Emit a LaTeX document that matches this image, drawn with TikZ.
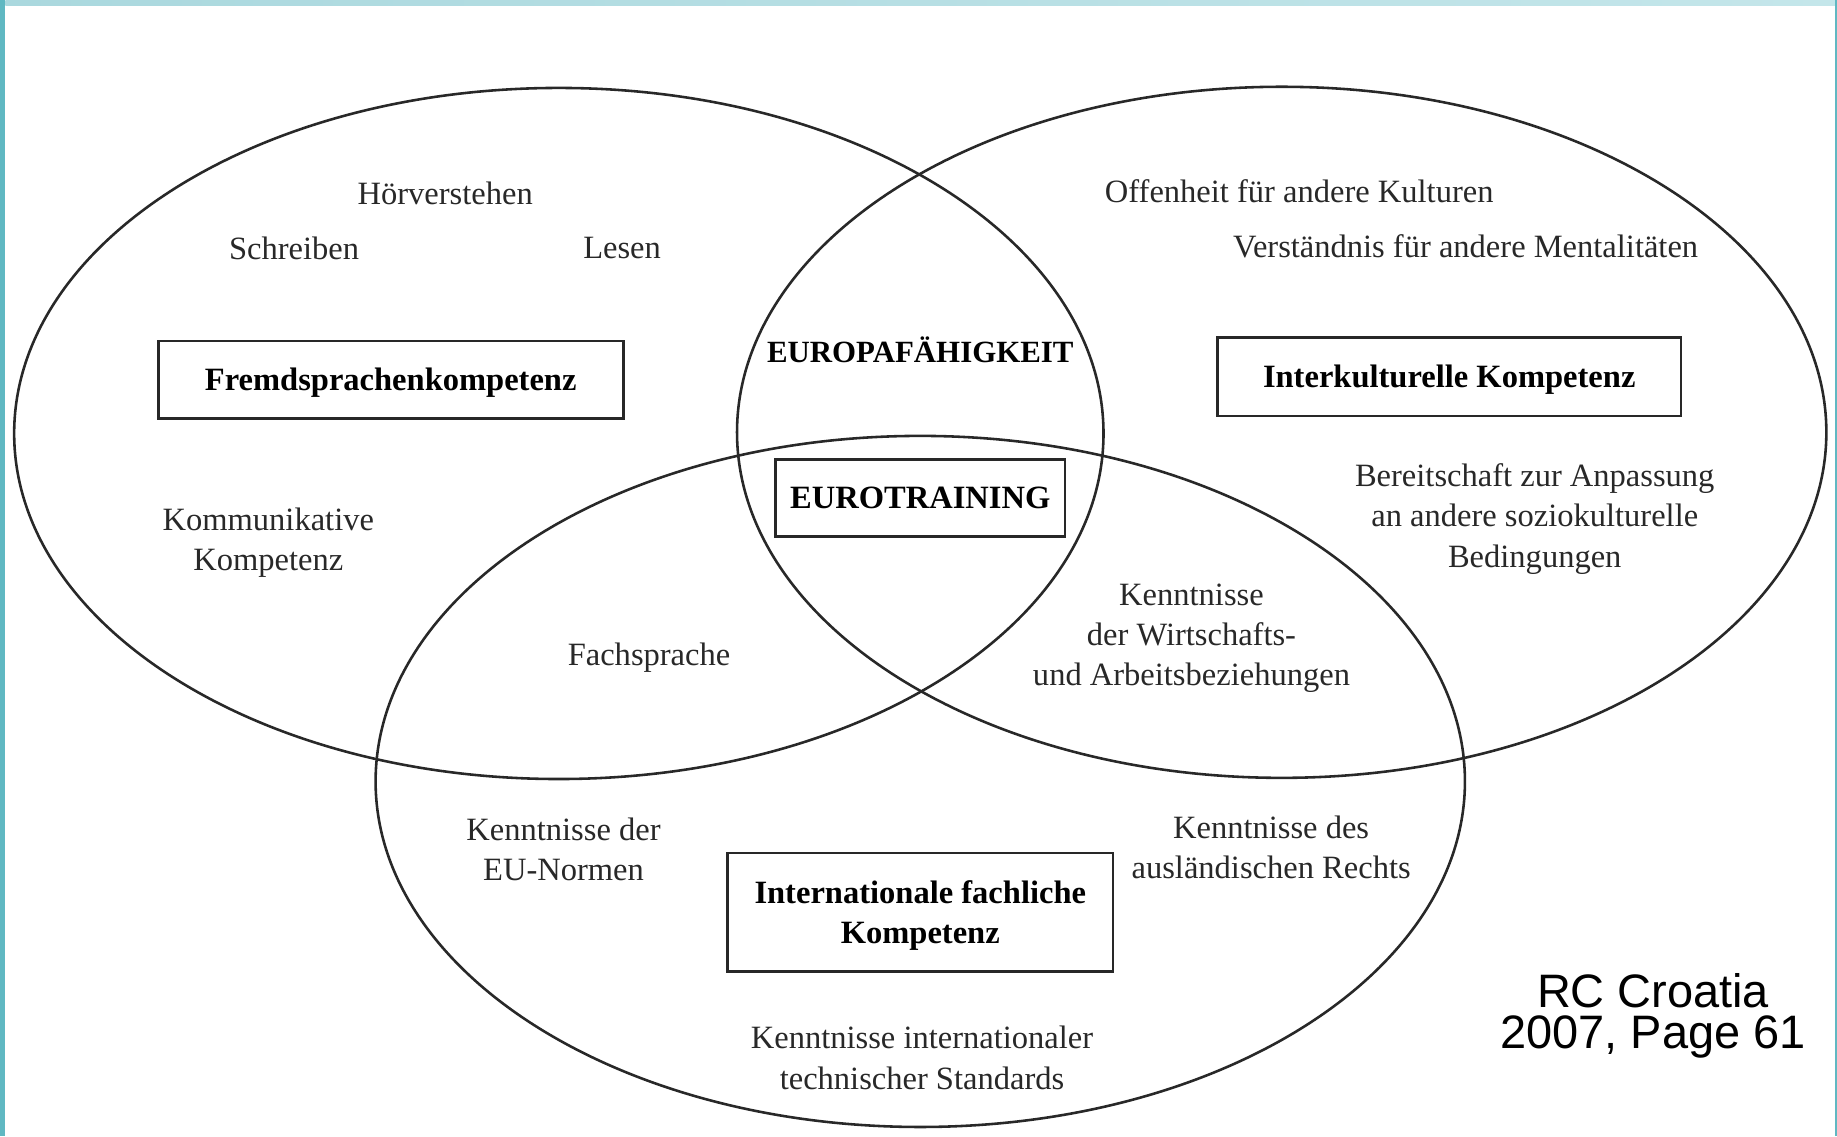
\documentclass[tikz,border=0pt]{standalone}
\usepackage{fontspec}
\setmainfont{Liberation Serif}
\newfontfamily\creditfont{Liberation Sans}
\definecolor{bandleft}{RGB}{96,184,194}
\definecolor{bandtop}{RGB}{170,216,222}
\definecolor{bandtopr}{RGB}{196,230,234}
\definecolor{inkgray}{RGB}{40,40,40}
\tikzset{
  ring/.style={draw=inkgray,line width=1.25pt},
  lbl/.style={align=center,inner sep=0pt,text=inkgray,font=\fontsize{15.8}{19.5}\selectfont},
  keybox/.style={draw=inkgray,line width=1.3pt,align=center,inner sep=0pt,text depth=0pt,
    font=\fontsize{15.8}{19.5}\selectfont\bfseries},
}
\begin{document}
\begin{tikzpicture}[x=0.02cm,y=-0.02cm]
\def\rx{9.3cm}
\def\ry{5.9cm}
\useasboundingbox (0,0) rectangle (1568,970);
\fill[white] (0,0) rectangle (1568,970);
% frame
\fill[bandleft] (0,0) rectangle (4.6,970);
\shade[left color=bandtop,right color=bandtopr] (4.6,0) rectangle (1568,4.3);
\fill[bandleft] (1566,0) rectangle (1568,970);
% the three rings
\foreach \cx/\cy in {477/370,1094/369,785.5/667}{
	\draw[ring] (\cx,\cy) ellipse [x radius=\rx,y radius=\ry];
}
% left ring
\node[lbl] (hoer) at (380,165) {Hörverstehen};
\node[lbl] (schreib) at (251,212) {Schreiben};
\node[lbl] (lesen) at (531,212) {Lesen};
\node[keybox,minimum width=7.94cm,minimum height=1.32cm] (fremd) at (333.5,324) {Fremdsprachenkompetenz};
\node[lbl] (kommu) at (229,463) {Kommunikative\\Kompetenz};
% right ring
\node[lbl] (offen) at (1109,163) {Offenheit für andere Kulturen};
\node[lbl] (verst) at (1251,210) {Verständnis für andere Mentalitäten};
\node[keybox,minimum width=7.92cm,minimum height=1.34cm] (interk) at (1237,321.5) {Interkulturelle Kompetenz};
\node[lbl] (bereit) at (1310,443) {Bereitschaft zur Anpassung\\an andere soziokulturelle\\Bedingungen};
% middle
\node[lbl,text=black,font=\fontsize{15}{19.5}\selectfont\bfseries] (europa) at (785.5,299) {EUROPAFÄHIGKEIT};
\node[keybox,minimum width=4.94cm,minimum height=1.32cm] (eurotr) at (785.5,425) {EUROTRAINING};
\node[lbl] (fachspr) at (554,561) {Fachsprache};
\node[lbl] (wirtsch) at (1017,545) {Kenntnisse\\der Wirtschafts-\\und Arbeitsbeziehungen};
% bottom ring
\node[lbl] (eunorm) at (481,725) {Kenntnisse der\\EU-Normen};
\node[lbl] (recht) at (1085,723) {Kenntnisse des\\ausländischen Rechts};
\node[keybox,minimum width=6.58cm,minimum height=2.02cm] (intfach) at (785.5,778.5) {Internationale fachliche\\Kompetenz};
\node[lbl] (techstd) at (787,903) {Kenntnisse internationaler\\technischer Standards};
% source
\node[align=center,inner sep=0pt,font=\creditfont\fontsize{22.8}{19.8}\selectfont] (quelle) at (1411,867) {RC Croatia\\2007, Page 61};
\end{tikzpicture}
\end{document}
